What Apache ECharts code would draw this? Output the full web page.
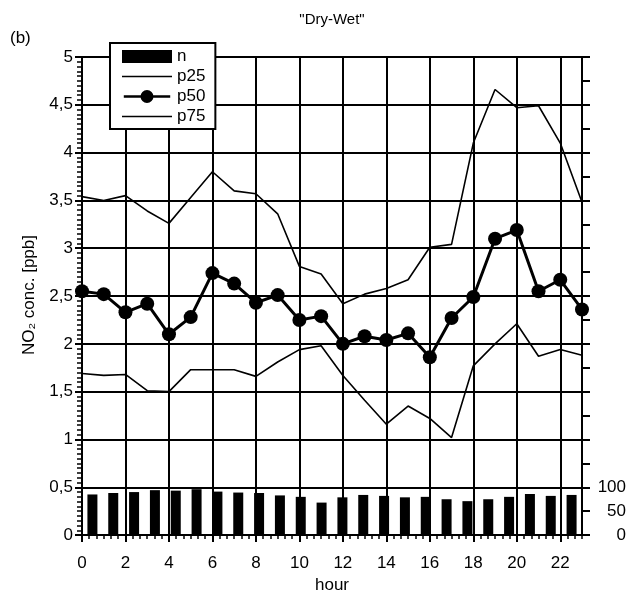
<!DOCTYPE html>
<html>
<head>
<meta charset="utf-8">
<script src="https://cdn.jsdelivr.net/npm/echarts@6/dist/echarts.min.js"></script>
<style>html,body{margin:0;padding:0;background:#fff;}#c{width:639px;height:599px;}</style>
</head>
<body>
<div id="c"></div>
<script>
const hours = [0,1,2,3,4,5,6,7,8,9,10,11,12,13,14,15,16,17,18,19,20,21,22,23];
const p25 = [1.69,1.67,1.68,1.51,1.50,1.73,1.73,1.73,1.66,1.81,1.94,1.98,1.67,1.41,1.16,1.35,1.22,1.02,1.77,2.00,2.21,1.87,1.94,1.88];
const p50 = [2.55,2.52,2.33,2.42,2.10,2.28,2.74,2.63,2.43,2.51,2.25,2.29,2.00,2.08,2.04,2.11,1.86,2.27,2.49,3.10,3.19,2.55,2.67,2.36];
const p75 = [3.54,3.50,3.55,3.39,3.26,3.53,3.80,3.60,3.57,3.36,2.81,2.73,2.42,2.52,2.58,2.67,3.01,3.04,4.10,4.66,4.47,4.49,4.10,3.48];
const nVals = [85,88,90,94,93,96,91,89,88,83,80,68,79,84,82,79,80,75,71,75,80,86,82,84];
const yTickLabels = ['0','0,5','1','1,5','2','2,5','3','3,5','4','4,5','5'];
const nTickLabels = ['0','50','100'];

const FONT = 'Liberation Sans, Arial, Helvetica, sans-serif';
const chart = echarts.init(document.getElementById('c'), null, {renderer:'canvas'});
const pairs = arr => hours.map((h,i)=>[h, arr[i]]);
const black = '#000';
const thinLineIcon = 'path://M0,0L0.01,0L0.01,0.01Z M0,5.7H50V7.3H0Z M0,13L0.01,13L0.01,12.99Z';
const dotLineIcon = 'path://M0,0L0.01,0L0.01,0.01Z M0,5.2H20V7.8H0Z M30,5.2H50V7.8H30Z M25,-0.5A7,7 0 1,1 24.99,-0.5Z M0,13L0.01,13L0.01,12.99Z';

chart.setOption({
  animation: false,
  backgroundColor: '#fff',
  textStyle: {fontFamily: FONT, color: black},
  grid: {left: 82, right: 57, top: 57, bottom: 62, containLabel: false},
  graphic: [
    {type:'text', x: 332, y: 20, style:{text:'"Dry-Wet"', font:'15px ' + FONT, fill: black, textAlign:'center', textVerticalAlign:'middle'}},
    {type:'text', x: 10, y: 38, style:{text:'(b)', font:'17px ' + FONT, fill: black, textAlign:'left', textVerticalAlign:'middle'}},
    {type:'text', x: 29, y: 295, rotation: Math.PI/2, style:{text:'NO\u2082 conc. [ppb]', font:'17px ' + FONT, fill: black, textAlign:'center', textVerticalAlign:'middle'}}
  ],
  legend: {
    orient: 'vertical', left: 110, top: 43,
    backgroundColor: '#fff', borderColor: black, borderWidth: 2,
    padding: [5, 10, 4, 12],
    itemWidth: 50, itemHeight: 13, itemGap: 3,
    textStyle: {fontSize: 17, color: black, fontFamily: FONT},
    data: [
      {name:'n', icon:'rect'},
      {name:'p25', icon: thinLineIcon},
      {name:'p50', icon: dotLineIcon},
      {name:'p75', icon: thinLineIcon}
    ]
  },
  xAxis: [
    {
      type: 'value', position: 'bottom', min: 0, max: 23, interval: 2,
      axisLine: {show: true, onZero: false, lineStyle: {color: black, width: 2}},
      axisTick: {show: true, length: 7, lineStyle: {color: black, width: 2}},
      splitLine: {show: true, lineStyle: {color: black, width: 2}},
      axisLabel: {fontSize: 17, color: black, margin: 20, showMaxLabel: false, fontFamily: FONT},
      name: 'hour', nameLocation: 'middle', nameGap: 36,
      nameTextStyle: {fontSize: 17, color: black, fontFamily: FONT}
    },
    {
      type: 'category', position: 'bottom', data: hours.map(String), boundaryGap: true, show: false
    },
    {
      type: 'value', position: 'bottom', min: 0, max: 23, interval: 1/3,
      axisLine: {show: false},
      axisTick: {show: true, length: 4, lineStyle: {color: black, width: 1.5}},
      splitLine: {show: false},
      axisLabel: {show: false}
    }
  ],
  yAxis: [
    {
      type: 'value', position: 'left', min: 0, max: 5, interval: 0.5,
      axisLine: {show: true, onZero: false, lineStyle: {color: black, width: 2}},
      axisTick: {show: true, length: 7, lineStyle: {color: black, width: 2}},
      minorTick: {show: true, splitNumber: 10, length: 5, lineStyle: {color: black, width: 1.5}},
      splitLine: {show: true, lineStyle: {color: black, width: 2}},
      axisLabel: {fontSize: 17, color: black, margin: 9, fontFamily: FONT,
        formatter: v => yTickLabels[Math.round(v*2)] || ''}
    },
    {
      type: 'value', position: 'right', min: 0, max: 1000, interval: 50,
      axisLine: {show: true, onZero: false, lineStyle: {color: black, width: 2}},
      axisTick: {show: true, length: 8, lineStyle: {color: black, width: 2}},
      splitLine: {show: false},
      axisLabel: {fontSize: 17, color: black, margin: 44, align: 'right', fontFamily: FONT,
        formatter: v => (v <= 100 ? nTickLabels[Math.round(v/50)] : '')}
    }
  ],
  series: [
    {name: 'n', type: 'bar', xAxisIndex: 1, yAxisIndex: 1, data: nVals, barWidth: 10,
     itemStyle: {color: black}},
    {name: 'p25', type: 'line', xAxisIndex: 0, yAxisIndex: 0, data: pairs(p25), symbol: 'none',
     lineStyle: {color: black, width: 1.6}, itemStyle: {color: black}},
    {name: 'p50', type: 'line', xAxisIndex: 0, yAxisIndex: 0, data: pairs(p50), symbol: 'circle', symbolSize: 14,
     lineStyle: {color: black, width: 3}, itemStyle: {color: black}},
    {name: 'p75', type: 'line', xAxisIndex: 0, yAxisIndex: 0, data: pairs(p75), symbol: 'none',
     lineStyle: {color: black, width: 1.6}, itemStyle: {color: black}}
  ]
});
</script>
</body>
</html>
